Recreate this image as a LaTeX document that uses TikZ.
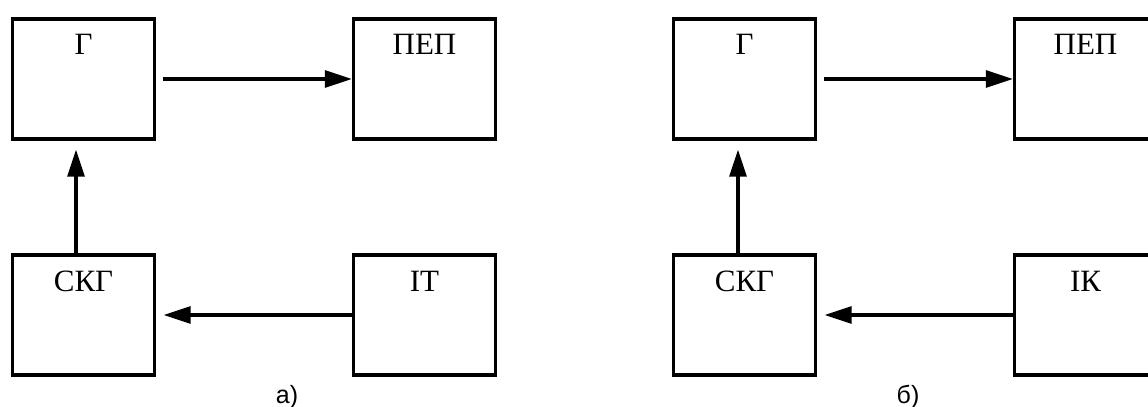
\documentclass[tikz,border=0pt]{standalone}
\usepackage{fontspec}
\setmainfont{Liberation Serif}
\newfontfamily\capfont{Liberation Sans}
\usetikzlibrary{arrows.meta}
\begin{document}
\begin{tikzpicture}[x=0.5pt, y=0.5pt,
	blk/.style = {draw, line width=1.7pt, minimum width=71pt, minimum height=60pt, inner sep=0pt},
	txt/.style = {anchor=base, inner sep=0pt, font=\fontsize{15.5}{18}\selectfont},
	subcap/.style = {anchor=base, inner sep=0pt, font=\capfont\fontsize{12.5}{14}\selectfont},
	arr/.style = {line width=1.6pt, -{Triangle[length=13.5pt,width=8.5pt]}}]
	\useasboundingbox (0,0) rectangle (1148,407);
	\clip (0,0) rectangle (1148,407);
	% а)
	\node[blk] (g1) at (83.5,328) {};
	\node[blk] (pep1) at (424.5,328) {};
	\node[blk] (skg1) at (83.5,92) {};
	\node[blk] (it1) at (424.5,92) {};
	\node[txt] (g1t) at ([yshift=-18.75pt]g1.north) {Г};
	\node[txt] (pep1t) at ([yshift=-18.75pt]pep1.north) {ПЕП};
	\node[txt] (skg1t) at ([yshift=-19pt]skg1.north) {СКГ};
	\node[txt] (it1t) at ([yshift=-19pt]it1.north) {ІТ};
	\draw[arr, shorten <=3.25pt] (g1.east) -- (pep1.west);
	\draw[arr, shorten >=3.75pt] (it1.west) -- (skg1.east);
	\draw[arr, shorten >=4.5pt] ([xshift=-3.75pt]skg1.north) -- ([xshift=-3.75pt]g1.south);
	\node[subcap] (capa) at (287,3) {а)};
	% б)
	\node[blk] (g2) at (744.5,328) {};
	\node[blk] (pep2) at (1085.5,328) {};
	\node[blk] (skg2) at (744.5,92) {};
	\node[blk] (ik2) at (1085.5,92) {};
	\node[txt] (g2t) at ([yshift=-18.75pt]g2.north) {Г};
	\node[txt] (pep2t) at ([yshift=-18.75pt]pep2.north) {ПЕП};
	\node[txt] (skg2t) at ([yshift=-19pt]skg2.north) {СКГ};
	\node[txt] (ik2t) at ([yshift=-19pt]ik2.north) {ІК};
	\draw[arr, shorten <=3.25pt] (g2.east) -- (pep2.west);
	\draw[arr, shorten >=3.75pt] (ik2.west) -- (skg2.east);
	\draw[arr, shorten >=4.5pt] ([xshift=-3.25pt]skg2.north) -- ([xshift=-3.25pt]g2.south);
	\node[subcap] (capb) at (908,3) {б)};
\end{tikzpicture}
\end{document}
